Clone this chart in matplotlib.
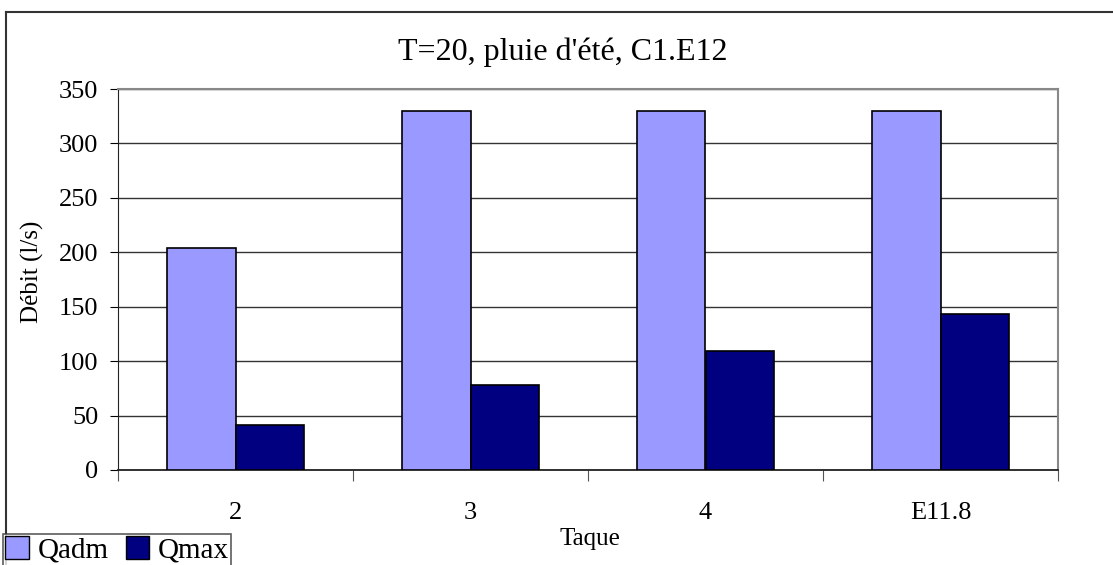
import matplotlib
matplotlib.use('Agg')
import matplotlib.pyplot as plt
import matplotlib.patches as mpatches
import numpy as np

plt.rcParams['font.family'] = ['Liberation Serif', 'DejaVu Serif']

# Données
taques = ['2', '3', '4', 'E11.8']
q_adm = [204, 330, 330, 330]
q_max = [41, 78, 109, 143]

COL_ADM = '#9999FF'
COL_MAX = '#000080'
W, H = 1113, 565
DPI = 100

fig = plt.figure(figsize=(W / DPI, H / DPI), dpi=DPI)
ax = fig.add_axes([118 / W, 1 - 470 / H, (1058 - 118) / W, (470 - 89) / H])

x = np.arange(len(taques))
bw = 0.29
ax.bar(x - bw / 2, q_adm, bw, color=COL_ADM, edgecolor='black', linewidth=1.2, zorder=3)
ax.bar(x + bw / 2, q_max, bw, color=COL_MAX, edgecolor='black', linewidth=1.2, zorder=3)

ax.set_xlim(-0.5, len(taques) - 0.5)
ax.set_ylim(0, 350)
ax.set_yticks(range(0, 351, 50))
ax.yaxis.grid(True, color='#333333', linewidth=1.0, zorder=0)
ax.set_axisbelow(True)

# Graduations x entre les catégories
ax.set_xticks(np.arange(-0.5, len(taques), 1.0))
ax.set_xticklabels([''] * (len(taques) + 1))
ax.set_xticks(x, minor=True)
ax.set_xticklabels(taques, minor=True, fontsize=19)
ax.tick_params(axis='x', which='minor', length=0, pad=23)
ax.tick_params(axis='x', which='major', length=8, direction='out', color='#555555')
ax.tick_params(axis='y', length=6, direction='out', labelsize=19, pad=8)

for s in ['top', 'right']:
    ax.spines[s].set_color('#888888')
    ax.spines[s].set_linewidth(1.5)
ax.spines['left'].set_color('#222222')
ax.spines['bottom'].set_color('#222222')
ax.spines['bottom'].set_linewidth(1.3)

fig.text(32 / W, 1 - 272 / H, 'Débit (l/s)', rotation=90, ha='center', va='center', fontsize=18)
fig.text(590 / W, 1 - 539 / H, 'Taque', ha='center', va='center', fontsize=18)
fig.text(563 / W, 1 - 52 / H, "T=20, pluie d'été, C1.E12", ha='center', va='center', fontsize=23)

# Cadre extérieur
fig.add_artist(plt.Line2D([6 / W, 6 / W], [0, 1 - 12 / H], transform=fig.transFigure,
                          color='#333333', linewidth=1.5))
fig.add_artist(plt.Line2D([6 / W, 1], [1 - 12 / H, 1 - 12 / H], transform=fig.transFigure,
                          color='#333333', linewidth=1.5))

# Légende
handles = [mpatches.Patch(facecolor=COL_ADM, edgecolor='black', label='Qadm'),
           mpatches.Patch(facecolor=COL_MAX, edgecolor='black', label='Qmax')]
leg = fig.legend(handles=handles, loc='upper left', bbox_to_anchor=(3 / W, 1 - 534 / H), ncol=2,
                 fontsize=21, frameon=True, fancybox=False, handlelength=0.8, handleheight=0.8,
                 handletextpad=0.3, columnspacing=0.6, borderpad=0.08, borderaxespad=0)
leg.get_frame().set_edgecolor('#333333')
leg.get_frame().set_linewidth(1.2)

fig.savefig('out.png', dpi=DPI)
